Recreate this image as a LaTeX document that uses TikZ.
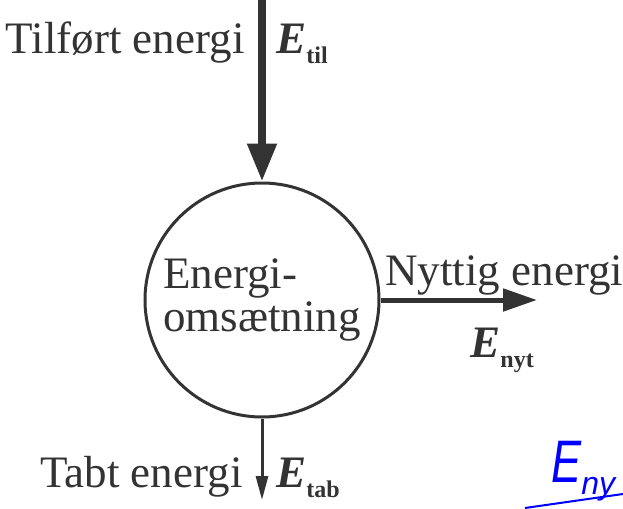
\documentclass[tikz,border=0pt]{standalone}
\usepackage{fontspec}
\setmainfont{Liberation Serif}
\setsansfont{Liberation Sans}
\usetikzlibrary{arrows.meta, positioning}

\newcommand{\Esub}[1]{{\bfseries\itshape E}\raisebox{-0.5ex}{\fontsize{12}{12}\selectfont\bfseries #1}}

\begin{document}
\begin{tikzpicture}[
    x=0.5pt, y=-0.5pt,
    every node/.style={font=\fontsize{22.5}{21.5}\selectfont, inner sep=0pt, text=black!80},
    process/.style={circle, draw=black!80, line width=1.5pt, minimum size=117pt, align=left},
    flowin/.style={draw=black!80, line width=4pt, -{Triangle[length=19pt, width=14pt]}},
    flowout/.style={draw=black!80, line width=2.5pt, -{Triangle[length=17pt, width=11pt]}},
    flowloss/.style={draw=black!80, line width=1.5pt, -{Triangle[length=12pt, width=6pt]}},
    tag/.style={anchor=base},
    handnote/.style={text=blue, font=\sffamily\itshape\fontsize{30}{30}\selectfont, anchor=base west}
]
\useasboundingbox (0,0) rectangle (623,509);

% Process
\node[process] (Omsaet) at (262,300) {Energi-\\omsætning};

% Flow ends
\coordinate (TilStart) at (262,0);
\coordinate (NytEnd) at (537,300);
\coordinate (TabEnd) at (262,500);

% Flows
\draw[flowin] (TilStart) -- (Omsaet.north);
\draw[flowout] (Omsaet.east) -- (NytEnd);
\draw[flowloss] (Omsaet.south) -- (TabEnd);

% Labels
\node[tag, anchor=base east] (TilText) at (245,53) {Tilført energi};
\node[tag, anchor=base west] (TilSym) at (276,53) {\Esub{til}};
\node[tag, anchor=base west] (NytText) at (385,285) {Nyttig energi};
\node[tag, anchor=base west] (NytSym) at (470,357) {\Esub{nyt}};
\node[tag, anchor=base east] (TabText) at (243,487) {Tabt energi};
\node[tag, anchor=base west] (TabSym) at (276,487) {\Esub{tab}};

% Handwritten note
\node[handnote] (Eny) at (551,482) {\scalebox{0.75}[1]{E}\raisebox{-0.4ex}{\fontsize{16}{16}\selectfont ny}};
\coordinate (UlA) at (525,508);
\coordinate (UlB) at (623,494);
\draw[blue, line width=1pt] (UlA) -- (UlB);

\end{tikzpicture}
\end{document}
